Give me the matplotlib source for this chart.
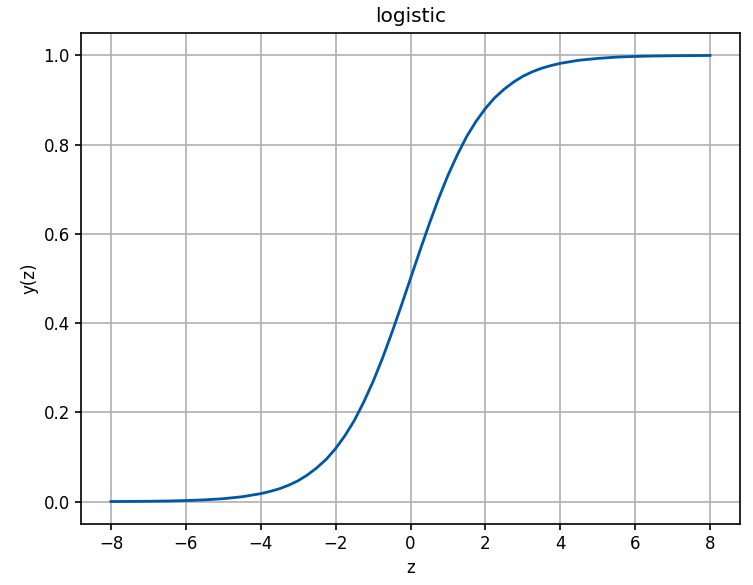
import matplotlib
matplotlib.use("Agg")
import matplotlib.pyplot as plt

z = [-8, -7.5, -7, -6.5, -6, -5.5, -5, -4.5,
     -4, -3.75, -3.5, -3.25, -3, -2.75, -2.5, -2.25, -2, -1.75, -1.5, -1.25, -1, -0.75, -0.5, -0.25,
     0, 0.25, 0.5, 0.75, 1, 1.25, 1.5, 1.75, 2, 2.25, 2.5, 2.75, 3, 3.25, 3.5, 3.75, 4,
     4.5, 5, 5.5, 6, 6.5, 7, 7.5, 8]
y = [0.0003, 0.0006, 0.0009, 0.0015, 0.0025, 0.0041, 0.0067, 0.011,
     0.018, 0.023, 0.029, 0.037, 0.047, 0.060, 0.076, 0.095, 0.119, 0.148, 0.182, 0.223, 0.269, 0.321, 0.378, 0.438,
     0.5, 0.562, 0.622, 0.679, 0.731, 0.777, 0.818, 0.852, 0.881, 0.905, 0.924, 0.940, 0.953, 0.963, 0.971, 0.977, 0.982,
     0.989, 0.993, 0.996, 0.9975, 0.9985, 0.999, 0.9994, 0.9997]
xticks = [-8, -6, -4, -2, 0, 2, 4, 6, 8]
yticks = [0.0, 0.2, 0.4, 0.6, 0.8, 1.0]

fig = plt.figure(figsize=(7.53, 5.85), dpi=100)
ax = fig.add_axes([81/753, 1 - 524/585, (740-81)/753, (524-33)/585])
ax.plot(z, y, color="#0057a8", lw=2)
ax.set_xticks(xticks)
ax.set_yticks(yticks)
ax.set_xticklabels([f"{t}".replace("-", "\u2212") for t in xticks])
ax.set_yticklabels([f"{t:.1f}" for t in yticks])
ax.tick_params(labelsize=12, length=4.5, width=1.2)
ax.grid(True, color="#b0b0b0", lw=1.2)
ax.set_xlim(-8.8, 8.8)
ax.set_ylim(-0.05, 1.05)
for s in ax.spines.values():
    s.set_linewidth(1.2)
ax.set_xlabel("z", fontsize=12)
ax.set_ylabel("y(z)", fontsize=12)
ax.set_title("logistic", fontsize=14.5, pad=8)
fig.savefig("out.png", dpi=100)
